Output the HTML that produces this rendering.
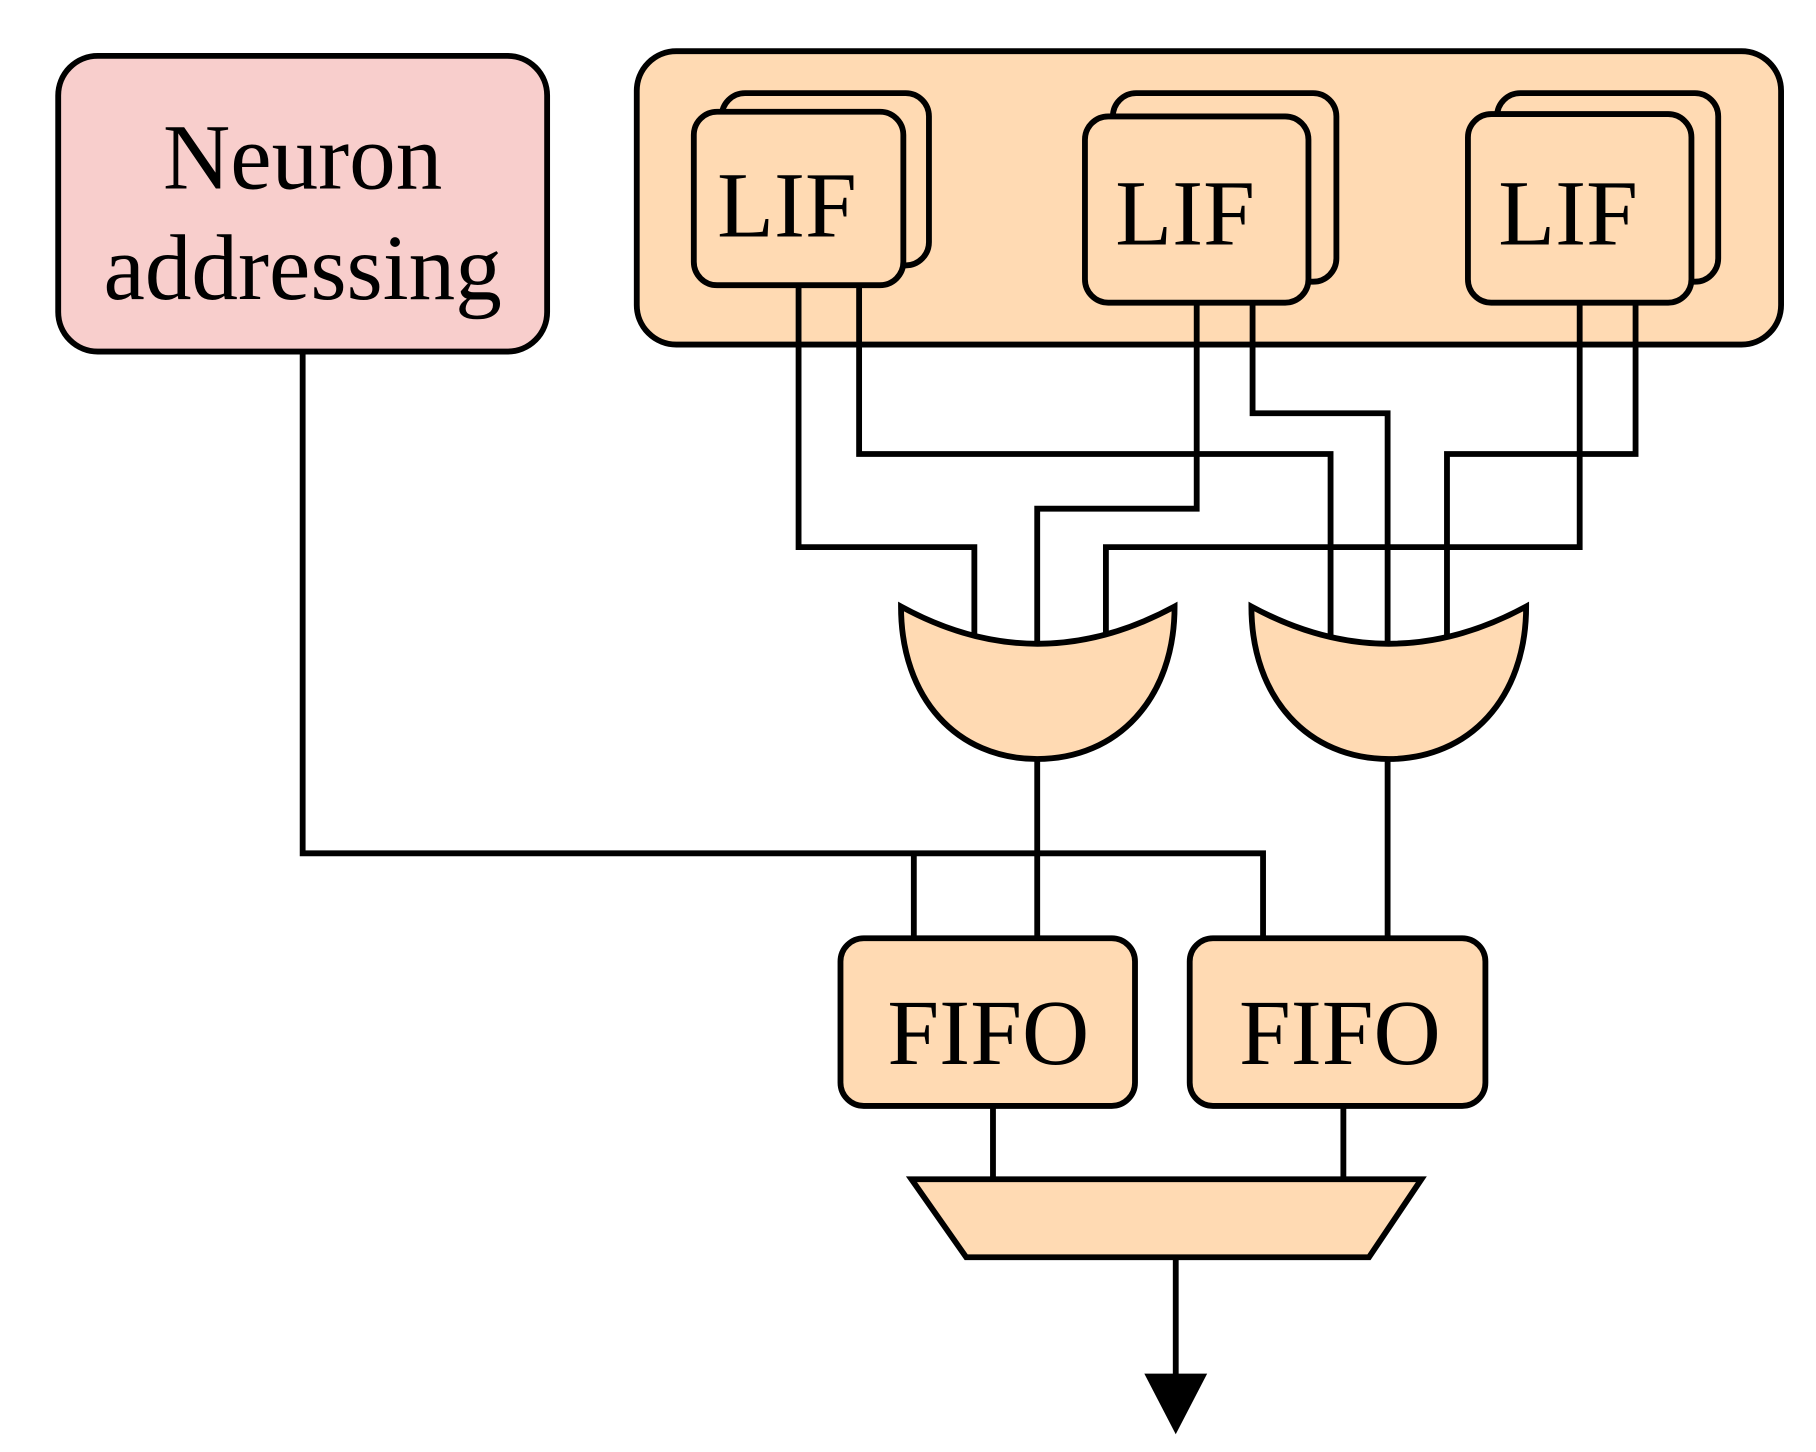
<!DOCTYPE html>
<html><head><style>html,body{margin:0;padding:0;background:#fff;}svg{display:block}</style></head>
<body>
<svg width="1816" height="1452" viewBox="0 0 1560 1247.3" preserveAspectRatio="none" xmlns="http://www.w3.org/2000/svg">
<g stroke="#000" stroke-width="5" fill="none" stroke-linejoin="miter">
<rect x="50" y="48" width="420" height="254" rx="34" fill="#f8cecc"/>
<rect x="547" y="44" width="983" height="252" rx="34" fill="#ffdab3"/>
<rect x="620" y="80" width="178" height="148" rx="20" fill="#ffdab3"/>
<rect x="596" y="96" width="180" height="149" rx="20" fill="#ffdab3"/>
<rect x="956" y="80" width="192" height="162" rx="20" fill="#ffdab3"/>
<rect x="932" y="100" width="192" height="160" rx="20" fill="#ffdab3"/>
<rect x="1286" y="80" width="190" height="162" rx="20" fill="#ffdab3"/>
<rect x="1261" y="98" width="192" height="162" rx="20" fill="#ffdab3"/>
<polyline points="260,302 260,733 1085,733 1085,806"/>
<polyline points="785,733 785,806"/>
<polyline points="686,245 686,470 837,470 837,548"/>
<polyline points="738,245 738,390 1143,390 1143,550"/>
<polyline points="1028,260 1028,437 891,437 891,555"/>
<polyline points="1076,260 1076,355 1192,355 1192,555"/>
<polyline points="1357,260 1357,470 950,470 950,548"/>
<polyline points="1405,260 1405,390 1243,390 1243,548"/>
<path d="M774,521 Q891,585 1009,521 C1009,600 960,652 891,652 C822,652 774,600 774,521 Z" fill="#ffdab3"/>
<path d="M1075,521 Q1193,585 1311,521 C1311,600 1262,652 1193,652 C1124,652 1075,600 1075,521 Z" fill="#ffdab3"/>
<line x1="891" y1="652" x2="891" y2="806"/>
<line x1="1192" y1="652" x2="1192" y2="806"/>
<rect x="722" y="806" width="253" height="144" rx="20" fill="#ffdab3"/>
<rect x="1022" y="806" width="254" height="144" rx="20" fill="#ffdab3"/>
<line x1="853" y1="950" x2="853" y2="1013"/>
<line x1="1154" y1="950" x2="1154" y2="1013"/>
<polygon points="783,1013 1221,1013 1176,1080 830,1080" fill="#ffdab3"/>
<line x1="1010" y1="1080" x2="1010" y2="1185"/>
</g>
<polygon points="983,1180 1037,1180 1010,1232" fill="#000"/>
<g font-family="'Liberation Serif', serif" font-size="80" fill="#000" text-anchor="middle">
<text x="260" y="162">Neuron</text>
<text x="260" y="257">addressing</text>
<text x="676" y="203">LIF</text>
<text x="1018" y="210">LIF</text>
<text x="1347" y="210">LIF</text>
<text x="849" y="914">FIFO</text>
<text x="1151" y="914">FIFO</text>
</g>
</svg>
</body></html>
